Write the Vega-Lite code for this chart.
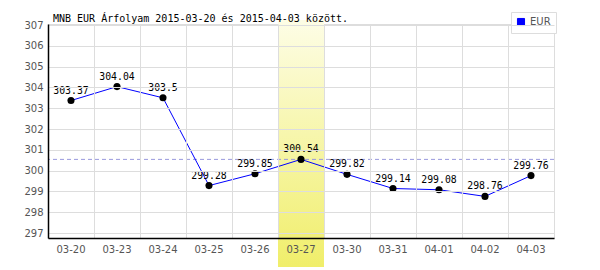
{
  "$schema": "https://vega.github.io/schema/vega-lite/v6.json",
  "width": 506,
  "height": 214,
  "autosize": "none",
  "padding": {"left": 48, "top": 24, "right": 46, "bottom": 32},
  "background": "white",
  "config": {
    "view": {"stroke": "#dddddd", "strokeWidth": 1},
    "font": "DejaVu Sans",
    "axisY": {"labelOverlap": false}
  },
  "title": {
    "text": "MNB EUR Árfolyam 2015-03-20 és 2015-04-03 között.",
    "anchor": "start",
    "frame": "group",
    "dx": 5,
    "dy": 18,
    "offset": 6,
    "font": "DejaVu Sans Mono",
    "fontSize": 10,
    "fontWeight": "normal",
    "color": "#000000"
  },
  "data": {
    "values": [
      {"date": "03-20", "rate": 303.37, "series": "EUR"},
      {"date": "03-23", "rate": 304.04, "series": "EUR"},
      {"date": "03-24", "rate": 303.5, "series": "EUR"},
      {"date": "03-25", "rate": 299.28, "series": "EUR"},
      {"date": "03-26", "rate": 299.85, "series": "EUR"},
      {"date": "03-27", "rate": 300.54, "series": "EUR"},
      {"date": "03-30", "rate": 299.82, "series": "EUR"},
      {"date": "03-31", "rate": 299.14, "series": "EUR"},
      {"date": "04-01", "rate": 299.08, "series": "EUR"},
      {"date": "04-02", "rate": 298.76, "series": "EUR"},
      {"date": "04-03", "rate": 299.76, "series": "EUR"}
    ]
  },
  "encoding": {
    "x": {
      "field": "date",
      "type": "ordinal",
      "scale": {"type": "band", "paddingInner": 0, "paddingOuter": 0},
      "axis": {
        "title": null,
        "ticks": false,
        "grid": true,
        "gridColor": "#dddddd",
        "bandPosition": 0,
        "labelPadding": 6,
        "labelAngle": 0,
        "labelFont": "DejaVu Sans",
        "labelFontSize": 10,
        "labelColor": "#555555",
        "domainColor": "#000000",
        "domainWidth": 1.5,
        "zindex": 1
      }
    },
    "y": {
      "field": "rate",
      "type": "quantitative",
      "scale": {"domain": [296.76, 307.05], "nice": false, "zero": false},
      "axis": {
        "title": null,
        "values": [297, 298, 299, 300, 301, 302, 303, 304, 305, 306, 307],
        "labelOverlap": false,
        "ticks": false,
        "grid": true,
        "gridColor": "#dddddd",
        "labelPadding": 5,
        "labelFont": "DejaVu Sans",
        "labelFontSize": 10,
        "labelColor": "#555555",
        "domainColor": "#000000",
        "domainWidth": 1.5,
        "zindex": 1
      }
    }
  },
  "layer": [
    {
      "data": {"values": [{"date": "03-27", "top": 307.24, "bottom": 295.37}]},
      "mark": {
        "type": "rect",
        "color": {
          "gradient": "linear",
          "x1": 0, "y1": 0, "x2": 0, "y2": 1,
          "stops": [
            {"offset": 0, "color": "#fdfde6"},
            {"offset": 1, "color": "#f0ee6a"}
          ]
        }
      },
      "encoding": {
        "y": {
          "field": "top",
          "type": "quantitative",
          "scale": {"domain": [296.76, 307.05], "nice": false, "zero": false},
          "axis": {
            "title": null,
            "values": [297, 298, 299, 300, 301, 302, 303, 304, 305, 306, 307],
            "labelOverlap": false,
            "ticks": false,
            "grid": true,
            "gridColor": "#dddddd",
            "labelPadding": 5,
            "labelFont": "DejaVu Sans",
            "labelFontSize": 10,
            "labelColor": "#555555",
            "domainColor": "#000000",
            "domainWidth": 1.5,
            "zindex": 1
          }
        },
        "y2": {"field": "bottom"}
      }
    },
    {
      "data": {"values": [{"avg": 300.54}]},
      "mark": {"type": "rule", "color": "#9999dd", "strokeDash": [4, 3], "strokeWidth": 1},
      "encoding": {
        "x": null,
        "y": {
          "field": "avg",
          "type": "quantitative",
          "scale": {"domain": [296.76, 307.05], "nice": false, "zero": false},
          "axis": {
            "title": null,
            "values": [297, 298, 299, 300, 301, 302, 303, 304, 305, 306, 307],
            "labelOverlap": false,
            "ticks": false,
            "grid": true,
            "gridColor": "#dddddd",
            "labelPadding": 5,
            "labelFont": "DejaVu Sans",
            "labelFontSize": 10,
            "labelColor": "#555555",
            "domainColor": "#000000",
            "domainWidth": 1.5,
            "zindex": 1
          }
        }
      }
    },
    {
      "mark": {"type": "line", "strokeWidth": 1},
      "encoding": {
        "color": {
          "field": "series",
          "type": "nominal",
          "scale": {"range": ["#0000ff"]},
          "legend": {
            "title": null,
            "orient": "none",
            "legendX": 463,
            "legendY": -12,
            "symbolType": "square",
            "symbolSize": 50,
            "symbolFillColor": "#0000ff",
            "symbolStrokeColor": "#555555",
            "symbolStrokeWidth": 1,
            "labelFont": "DejaVu Sans",
            "labelFontSize": 10,
            "labelColor": "#555555",
            "strokeColor": "#dddddd",
            "fillColor": "white",
            "padding": 5
          }
        }
      }
    },
    {
      "mark": {"type": "point", "filled": true, "color": "#000000", "size": 50, "opacity": 1}
    },
    {
      "mark": {
        "type": "text",
        "baseline": "bottom",
        "dy": -5,
        "font": "DejaVu Sans Mono",
        "fontSize": 9.8,
        "color": "#000000"
      },
      "encoding": {
        "text": {"field": "rate", "type": "quantitative", "format": ".2~f"}
      }
    }
  ]
}
